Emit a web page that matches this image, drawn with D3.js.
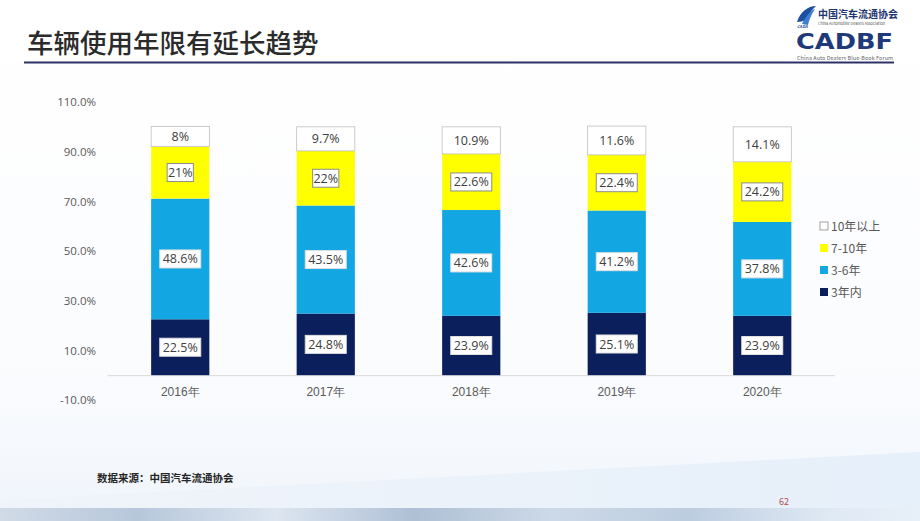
<!DOCTYPE html>
<html><head><meta charset="utf-8">
<script src="https://cdn.jsdelivr.net/npm/d3@7/dist/d3.min.js"></script>
<style>body{margin:0;background:#fff;}svg{display:block;font-family:"Noto Sans CJK SC","Noto Sans",sans-serif;}</style>
</head><body>
<svg id="c" width="920" height="521"></svg>
<script>
const categories = ["2016年","2017年","2018年","2019年","2020年"];
const seriesNames = ["3年内","3-6年","7-10年","10年以上"];
const s3nei = [22.5, 24.8, 23.9, 25.1, 23.9];
const s3to6 = [48.6, 43.5, 42.6, 41.2, 37.8];
const s7to10 = [21, 22, 22.6, 22.4, 24.2];
const s10up = [8, 9.7, 10.9, 11.6, 14.1];
const yTicks = [-10, 10, 30, 50, 70, 90, 110];
const legendOrder = ["10年以上","7-10年","3-6年","3年内"];
const colors = {"3年内":"#0a1f5b","3-6年":"#12a6e3","7-10年":"#ffff00","10年以上":"#ffffff"};

const svg = d3.select("#c");
const defs = svg.append("defs");
const bg = defs.append("linearGradient").attr("id","bg").attr("x1",0).attr("y1",0).attr("x2",0).attr("y2",1);
bg.append("stop").attr("offset","0").attr("stop-color","#ffffff");
bg.append("stop").attr("offset","0.7").attr("stop-color","#fbfcfe");
bg.append("stop").attr("offset","1").attr("stop-color","#f0f5fb");
svg.append("rect").attr("width",920).attr("height",521).attr("fill","url(#bg)");
const band = defs.append("linearGradient").attr("id","band").attr("x1",0).attr("y1",0).attr("x2",1).attr("y2",0);
band.append("stop").attr("offset","0").attr("stop-color","#f0f4fa");
band.append("stop").attr("offset","1").attr("stop-color","#e6f0fa");
svg.append("path").attr("d","M0,500 L920,452 L920,521 L0,521 Z").attr("fill","url(#band)");
const strip = defs.append("linearGradient").attr("id","strip").attr("x1",0).attr("y1",0).attr("x2",1).attr("y2",0);
[["0","#c9d4e2"],["0.15","#a9bcd3"],["0.3","#d8e2ee"],["0.45","#9fb3cc"],["0.6","#c5d3e3"],["0.75","#b2c4da"],["0.9","#dde7f2"],["1","#e8f0f8"]].forEach(s=>strip.append("stop").attr("offset",s[0]).attr("stop-color",s[1]));
svg.append("rect").attr("x",0).attr("y",508).attr("width",920).attr("height",13).attr("fill","url(#strip)").attr("opacity",0.8);

// title
svg.append("text").attr("x",27).attr("y",53).attr("font-size",26.5).attr("font-weight",500).attr("fill","#2b2b2b").text("车辆使用年限有延长趋势");
svg.append("line").attr("x1",24).attr("x2",894).attr("y1",62.5).attr("y2",62.5).attr("stroke","#2e3166").attr("stroke-width",2.2);

// logo
const lg = svg.append("g");
lg.append("path").attr("d","M797,22 C800,12 808,6 816,6 C812,10 808,14 806,20 C803,21 800,22 797,22 Z").attr("fill","#1f4fa0");
lg.append("path").attr("d","M802,24 C806,16 811,10 815,9 C811,15 809,20 808,25 Z").attr("fill","#3a7fd0");
lg.append("text").attr("x",797).attr("y",28).attr("font-size",4).attr("font-style","italic").attr("font-weight",700).attr("fill","#1f4fa0").text("CADA");
lg.append("text").attr("x",818).attr("y",18).attr("font-size",10).attr("font-weight",700).attr("fill","#1e3470").text("中国汽车流通协会");
lg.append("text").attr("x",818).attr("y",24.5).attr("font-size",3.8).attr("fill","#555").text("China Automobile Dealers Association");
lg.append("text").attr("x",796).attr("y",49).attr("font-size",22).attr("font-weight",900).attr("font-family","'DejaVu Sans',sans-serif").attr("fill","#1e3a7a").attr("textLength",97).attr("lengthAdjust","spacingAndGlyphs").text("CADBF");
lg.append("text").attr("x",797).attr("y",60).attr("font-size",5.4).attr("fill","#666").attr("textLength",96).text("China Auto Dealers Blue-Book Forum");

// chart
const x = d3.scaleBand().domain(categories).range([107.5, 835]).paddingInner(0.6).paddingOuter(0.3);
const y = d3.scaleLinear().domain([-10,110]).range([400,102]);
const rows = categories.map((c,i)=>({cat:c,"3年内":s3nei[i],"3-6年":s3to6[i],"7-10年":s7to10[i],"10年以上":s10up[i]}));
const stacked = d3.stack().keys(seriesNames)(rows);

const axisG = svg.append("g").attr("transform","translate(96,0)").call(d3.axisLeft(y).tickValues(yTicks).tickSize(0).tickPadding(0).tickFormat(d=>d.toFixed(1)+"%"));
axisG.select(".domain").remove();
axisG.selectAll("text").attr("font-size",11.5).attr("fill","#595959").attr("font-family","'Open Sans','Noto Sans',sans-serif");

const xg = svg.append("g").attr("transform",`translate(0,${y(0)})`).call(d3.axisBottom(x).tickSize(0).tickPadding(12));
xg.select(".domain").attr("stroke","#d9d9d9").attr("d",`M107.5,0.5H835`);
xg.selectAll("text").attr("font-size",12).attr("fill","#595959");

const layer = svg.append("g").selectAll("g").data(stacked).join("g").attr("fill",d=>colors[d.key]);
layer.selectAll("rect").data(d=>d.map(v=>Object.assign(v,{key:d.key}))).join("rect")
  .attr("x",d=>x(d.data.cat)).attr("width",x.bandwidth())
  .attr("y",d=>y(d[1])).attr("height",d=>y(d[0])-y(d[1]))
  .attr("stroke",d=>d.key==="10年以上"?"#bfbfbf":"none").attr("stroke-width",0.8);

// labels
const labG = svg.append("g");
stacked.forEach(s=>{
  s.forEach(v=>{
    const val = v.data[s.key];
    const cx = x(v.data.cat)+x.bandwidth()/2;
    const cy = (y(v[0])+y(v[1]))/2;
    const txt = val+"%";
    const g = labG.append("g");
    if(s.key!=="10年以上"){
      const w = txt.length*7.4+4;
      g.append("rect").attr("x",cx-w/2).attr("y",cy-9).attr("width",w).attr("height",18)
        .attr("fill","#fff").attr("stroke",s.key==="7-10年"?"#8c8c8c":"#e0e0e0").attr("stroke-width",1);
    }
    g.append("text").attr("x",cx).attr("y",cy+4.5).attr("text-anchor","middle").attr("font-size",12.5)
      .attr("font-family","'Open Sans','Noto Sans',sans-serif").attr("fill","#404040").text(txt);
  });
});

// legend
const leg = svg.append("g").selectAll("g").data(legendOrder).join("g").attr("transform",(d,i)=>`translate(820,${226+i*22})`);
leg.append("rect").attr("x",0).attr("y",-4).attr("width",8).attr("height",8).attr("fill",d=>colors[d]).attr("stroke",d=>d==="10年以上"?"#8c8c8c":"none").attr("stroke-width",0.8);
leg.append("text").attr("x",11).attr("y",4.5).attr("font-size",12).attr("fill","#595959").text(d=>d);

// footer
svg.append("text").attr("x",97).attr("y",482).attr("font-size",10.5).attr("font-weight",700).attr("fill","#262626").text("数据来源：中国汽车流通协会");
svg.append("text").attr("x",779).attr("y",505).attr("font-size",9).attr("fill","#b05050").text("62");
</script>
</body></html>
